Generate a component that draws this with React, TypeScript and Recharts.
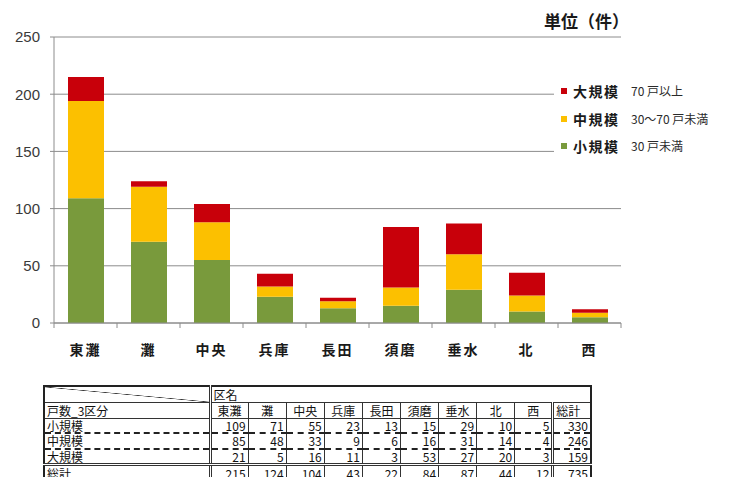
import React from 'react';
import { BarChart, Bar, XAxis, YAxis, CartesianGrid } from 'recharts';

// 区別・規模別の件数
const districts = ['東灘', '灘', '中央', '兵庫', '長田', '須磨', '垂水', '北', '西'];
const smallCounts = [109, 71, 55, 23, 13, 15, 29, 10, 5];
const mediumCounts = [85, 48, 33, 9, 6, 16, 31, 14, 4];
const largeCounts = [21, 5, 16, 11, 3, 53, 27, 20, 3];
const yTicks = [0, 50, 100, 150, 200, 250];

const legendItems = [
  { key: 'large', name: '大規模', note: '70 戸以上', color: '#c8000a' },
  { key: 'medium', name: '中規模', note: '30〜70 戸未満', color: '#fcc000' },
  { key: 'small', name: '小規模', note: '30 戸未満', color: '#799a3c' },
];

const rowLabels = ['小規模', '中規模', '大規模'];
const rowValues = [smallCounts, mediumCounts, largeCounts];

const data = districts.map((name, i) => ({
  name,
  small: smallCounts[i],
  medium: mediumCounts[i],
  large: largeCounts[i],
}));

const sum = (a: number[]) => a.reduce((s, v) => s + v, 0);
const columnTotals = districts.map((_, i) => smallCounts[i] + mediumCounts[i] + largeCounts[i]);

const CHART_W = 733;
const CHART_H = 370;
const PLOT_LEFT = 54;
const PLOT_RIGHT = 621;
const STEP = (PLOT_RIGHT - PLOT_LEFT) / districts.length;
const AXIS = '#8c8c8c';
const JP = '"Noto Sans CJK JP", "Noto Sans", sans-serif';

const CategoryTick = (props: any) => {
  const { x, y, payload, index } = props;
  const half = STEP / 2;
  return (
    <g>
      <line x1={x - half} y1={y} x2={x - half} y2={y + 5} stroke={AXIS} />
      {index === districts.length - 1 && (
        <line x1={x + half} y1={y} x2={x + half} y2={y + 5} stroke={AXIS} />
      )}
      <text
        x={x}
        y={y + 26}
        textAnchor="middle"
        dominantBaseline="central"
        fontFamily={JP}
        fontSize={14}
        fontWeight={700}
        letterSpacing={2}
        fill="#1a1a1a"
      >
        {payload.value}
      </text>
    </g>
  );
};

const cell: React.CSSProperties = {
  borderLeft: '1px solid #333',
  padding: '0 2px',
  whiteSpace: 'nowrap',
  lineHeight: '13px',
};

const App: React.FC = () => {
  return (
    <div
      style={{
        position: 'absolute',
        left: 0,
        top: 0,
        width: CHART_W,
        height: 477,
        background: '#fff',
        overflow: 'hidden',
      }}
    >
      <BarChart
        width={CHART_W}
        height={CHART_H}
        data={data}
        margin={{ top: 37, right: CHART_W - PLOT_RIGHT, left: 0, bottom: 7 }}
      >
        <CartesianGrid vertical={false} stroke={AXIS} />
        <YAxis
          width={PLOT_LEFT}
          domain={[0, 250]}
          ticks={yTicks}
          interval={0}
          tickSize={4}
          tickMargin={10}
          axisLine={{ stroke: AXIS }}
          tickLine={{ stroke: AXIS }}
          tick={{ fill: '#3a3a3a', fontSize: 15, fontFamily: '"Liberation Sans", Arial, sans-serif' }}
        />
        <XAxis
          dataKey="name"
          height={40}
          interval={0}
          tickSize={0}
          tickMargin={0}
          tickLine={false}
          axisLine={{ stroke: AXIS }}
          tick={<CategoryTick />}
        />
        <Bar dataKey="small" stackId="a" fill="#799a3c" barSize={36} isAnimationActive={false} />
        <Bar dataKey="medium" stackId="a" fill="#fcc000" barSize={36} isAnimationActive={false} />
        <Bar dataKey="large" stackId="a" fill="#c8000a" barSize={36} isAnimationActive={false} />
      </BarChart>

      {/* 単位 */}
      <div
        style={{
          position: 'absolute',
          left: 544,
          top: 9,
          fontFamily: JP,
          fontSize: 17,
          fontWeight: 700,
          color: '#1a1a1a',
          lineHeight: '24px',
        }}
      >
        単位（件）
      </div>

      {/* 凡例 */}
      <div
        style={{
          position: 'absolute',
          left: 554,
          top: 76,
          width: 175,
          height: 86,
          background: '#fff',
          fontFamily: JP,
        }}
      >
        {legendItems.map((item, i) => (
          <div
            key={item.key}
            style={{ position: 'absolute', left: 0, top: 5 + i * 27.7, height: 20, width: 175 }}
          >
            <div
              style={{
                position: 'absolute',
                left: 7,
                top: 7,
                width: 6,
                height: 6,
                background: item.color,
              }}
            />
            <div
              style={{
                position: 'absolute',
                left: 19,
                top: 0,
                lineHeight: '20px',
                fontSize: 14,
                fontWeight: 700,
                letterSpacing: 1.5,
                color: '#1a1a1a',
              }}
            >
              {item.name}
            </div>
            <div
              style={{
                position: 'absolute',
                left: 77,
                top: 0,
                lineHeight: '20px',
                fontSize: 12,
                color: '#2a2a2a',
              }}
            >
              {item.note}
            </div>
          </div>
        ))}
      </div>

      {/* 集計表 */}
      <table
        style={{
          position: 'absolute',
          left: 43,
          top: 385,
          width: 547,
          borderCollapse: 'collapse',
          tableLayout: 'fixed',
          border: '2px solid #222',
          fontFamily: JP,
          fontSize: 12,
          color: '#111',
        }}
      >
        <colgroup>
          <col style={{ width: 166 }} />
          {districts.map((d) => (
            <col key={d} style={{ width: 38.1 }} />
          ))}
          <col style={{ width: 38.1 }} />
        </colgroup>
        <tbody>
          <tr style={{ height: 16 }}>
            <td
              style={{
                ...cell,
                borderLeft: 'none',
                borderBottom: '1px solid #333',
                background:
                  'linear-gradient(to top right, transparent calc(50% - 0.6px), #333 50%, transparent calc(50% + 0.6px))',
              }}
            />
            <td
              colSpan={districts.length + 1}
              style={{ ...cell, borderLeft: '3px double #333', borderBottom: '1px solid #333' }}
            >
              区名
            </td>
          </tr>
          <tr style={{ height: 16 }}>
            <td style={{ ...cell, borderLeft: 'none', borderBottom: '1px solid #333' }}>戸数_3区分</td>
            {districts.map((d, i) => (
              <td
                key={d}
                style={{
                  ...cell,
                  borderLeft: i === 0 ? '3px double #333' : '1px solid #333',
                  borderBottom: '1px solid #333',
                  textAlign: 'center',
                }}
              >
                {d}
              </td>
            ))}
            <td style={{ ...cell, borderLeft: '3px double #333', borderBottom: '1px solid #333' }}>総計</td>
          </tr>
          {rowLabels.map((label, r) => {
            const bottom = r < 2 ? '2px dashed #222' : '3px double #333';
            return (
              <tr key={label} style={{ height: r === 0 ? 14 : 16 }}>
                <td style={{ ...cell, borderLeft: 'none', borderBottom: bottom }}>{label}</td>
                {rowValues[r].map((v, i) => (
                  <td
                    key={i}
                    style={{
                      ...cell,
                      borderLeft: i === 0 ? '3px double #333' : '1px solid #333',
                      borderBottom: bottom,
                      textAlign: 'right',
                    }}
                  >
                    {v}
                  </td>
                ))}
                <td
                  style={{ ...cell, borderLeft: '3px double #333', borderBottom: bottom, textAlign: 'right' }}
                >
                  {sum(rowValues[r])}
                </td>
              </tr>
            );
          })}
          <tr style={{ height: 17 }}>
            <td style={{ ...cell, borderLeft: 'none' }}>総計</td>
            {columnTotals.map((v, i) => (
              <td
                key={i}
                style={{
                  ...cell,
                  borderLeft: i === 0 ? '3px double #333' : '1px solid #333',
                  textAlign: 'right',
                }}
              >
                {v}
              </td>
            ))}
            <td style={{ ...cell, borderLeft: '3px double #333', textAlign: 'right' }}>
              {sum(columnTotals)}
            </td>
          </tr>
        </tbody>
      </table>
    </div>
  );
};

export default App;
